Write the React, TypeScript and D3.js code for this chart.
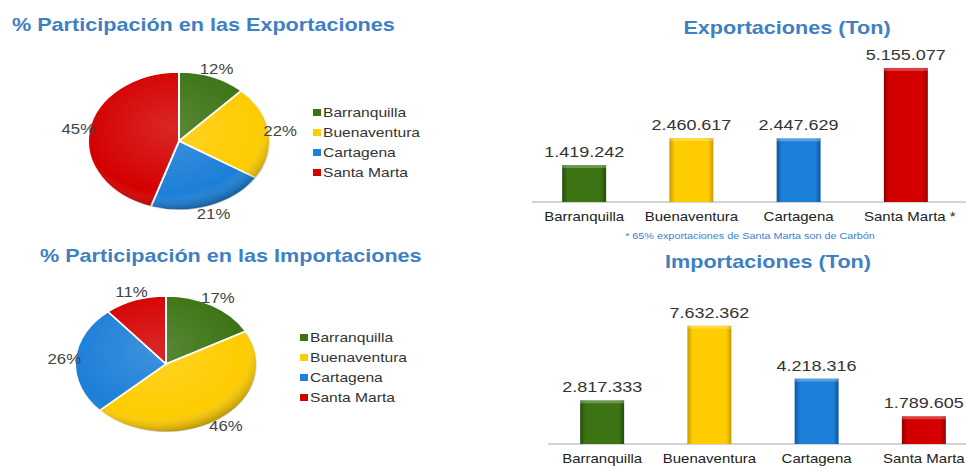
import React from "react";
import * as d3 from "d3";

const ports = ["Barranquilla", "Buenaventura", "Cartagena", "Santa Marta"];
const colors = ["#3c7414", "#ffcc00", "#1c7fd8", "#d40000"];
const darkColors = ["#244d08", "#c79a00", "#0d56a0", "#8e0000"];
const exportShare = [12, 22, 21, 45];
const importShare = [17, 46, 26, 11];
const exportTon = [1419242, 2460617, 2447629, 5155077];
const importTon = [2817333, 7632362, 4218316, 1789605];
const exportLabels = ["Barranquilla", "Buenaventura", "Cartagena", "Santa Marta *"];
const importLabels = ["Barranquilla", "Buenaventura", "Cartagena", "Santa Marta"];

const FONT = "'Liberation Sans', Arial, sans-serif";
const TITLE_COLOR = "#3f80c4";
const SX = 1.2;

const fmt = (v: number) => d3.format(",")(v).replace(/,/g, ".");

function T({ x, y, size, anchor = "start", fill = "#333", weight = "normal", children }: any) {
  return (
    <text
      transform={`translate(${x},${y}) scale(${SX},1)`}
      textAnchor={anchor}
      fontSize={size}
      fontWeight={weight}
      fill={fill}
      fontFamily={FONT}
    >
      {children}
    </text>
  );
}

function Pie({ values, cx, cy, rx, ry, legendX, legendY, id }: any) {
  const pie = d3.pie<number>().sort(null).value((d) => d);
  const arcs = pie(values);
  const arc = d3.arc<d3.PieArcDatum<number>>().innerRadius(0).outerRadius(rx);
  const sy = ry / rx;
  return (
    <g>
      <defs>
        <radialGradient id={`shade-${id}`} cx="0.45" cy="0.4" r="0.6">
          <stop offset="0" stopColor="#fff" stopOpacity="0.15" />
          <stop offset="0.8" stopColor="#fff" stopOpacity="0" />
          <stop offset="1" stopColor="#000" stopOpacity="0.25" />
        </radialGradient>
      </defs>
      <g transform={`translate(${cx},${cy}) scale(1,${sy})`}>
        {arcs.map((a, i) => (
          <path key={i} d={arc(a) || ""} fill={colors[i]} stroke="#fff" strokeWidth={2} />
        ))}
        <circle r={rx} fill={`url(#shade-${id})`} pointerEvents="none" />
      </g>
      {arcs.map((a, i) => {
        const mid = (a.startAngle + a.endAngle) / 2;
        const r = 1.12;
        const x = cx + Math.sin(mid) * rx * r;
        const y = cy - Math.cos(mid) * ry * r;
        return (
          <T key={i} x={x} y={y + 5} size={14} anchor="middle" fill="#444">
            {values[i]}%
          </T>
        );
      })}
      {ports.map((p, i) => (
        <g key={p}>
          <rect x={legendX} y={legendY + i * 20 - 8} width={8} height={7} fill={colors[i]} />
          <T x={legendX + 10} y={legendY + i * 20} size={13} fill="#333">
            {p}
          </T>
        </g>
      ))}
    </g>
  );
}

function Bars({ values, labels, x0, x1, baseY, pxPerM, id, axisX0 }: any) {
  const x = d3.scaleBand<string>().domain(ports).range([x0, x1]).paddingInner(0.59).paddingOuter(0.3);
  const maxV = d3.max(values as number[]) as number;
  const y = d3.scaleLinear().domain([0, maxV]).range([baseY, baseY - (maxV / 1e6) * pxPerM]);
  return (
    <g>
      <defs>
        {colors.map((c, i) => (
          <linearGradient key={i} id={`bar-${id}-${i}`} x1="0" x2="1" y1="0" y2="0">
            <stop offset="0" stopColor={darkColors[i]} />
            <stop offset="0.12" stopColor={c} />
            <stop offset="0.5" stopColor={c} />
            <stop offset="0.88" stopColor={c} />
            <stop offset="1" stopColor={darkColors[i]} />
          </linearGradient>
        ))}
      </defs>
      <line x1={axisX0} x2={966} y1={baseY} y2={baseY} stroke="#aaa" strokeWidth={1} />
      {values.map((v: number, i: number) => {
        const bx = x(ports[i]) as number;
        const bw = x.bandwidth();
        return (
          <g key={i}>
            <rect x={bx} y={y(v)} width={bw} height={baseY - y(v)} fill={`url(#bar-${id}-${i})`} />
            <rect x={bx} y={y(v)} width={bw} height={3} fill="#fff" opacity={0.25} />
            <T x={bx + bw / 2} y={y(v) - 8} size={15} anchor="middle" fill="#333">
              {fmt(v)}
            </T>
            <T x={bx + bw / 2 + (labels[i].endsWith("*") ? 4 : 0)} y={baseY + 19} size={12.5} anchor="middle" fill="#222">
              {labels[i]}
            </T>
          </g>
        );
      })}
    </g>
  );
}

export default function App() {
  return (
    <div style={{ position: "absolute", left: 0, top: 0 }}>
      <svg width={966} height={471} style={{ display: "block", background: "#fff" }}>
        <T x={12} y={31} size={18} weight="bold" fill={TITLE_COLOR}>
          % Participación en las Exportaciones
        </T>
        <T x={40} y={262} size={18} weight="bold" fill={TITLE_COLOR}>
          % Participación en las Importaciones
        </T>
        <Pie values={exportShare} cx={179} cy={141} rx={91} ry={69} legendX={313} legendY={117} id="exp" />
        <Pie values={importShare} cx={166} cy={364} rx={91} ry={68} legendX={300} legendY={342} id="imp" />

        <T x={787} y={34} size={18} anchor="middle" weight="bold" fill={TITLE_COLOR}>
          Exportaciones (Ton)
        </T>
        <Bars values={exportTon} labels={exportLabels} x0={530} x1={960} baseY={202} pxPerM={26} id="exp" axisX0={532} />
        <T x={750} y={239} size={9} anchor="middle" fill="#3a7fd0">
          * 65% exportaciones de Santa Marta son de Carbón
        </T>

        <T x={768} y={268} size={18} anchor="middle" weight="bold" fill={TITLE_COLOR}>
          Importaciones (Ton)
        </T>
        <Bars values={importTon} labels={importLabels} x0={548} x1={978} baseY={444} pxPerM={15.5} id="imp" axisX0={548} />
      </svg>
    </div>
  );
}
